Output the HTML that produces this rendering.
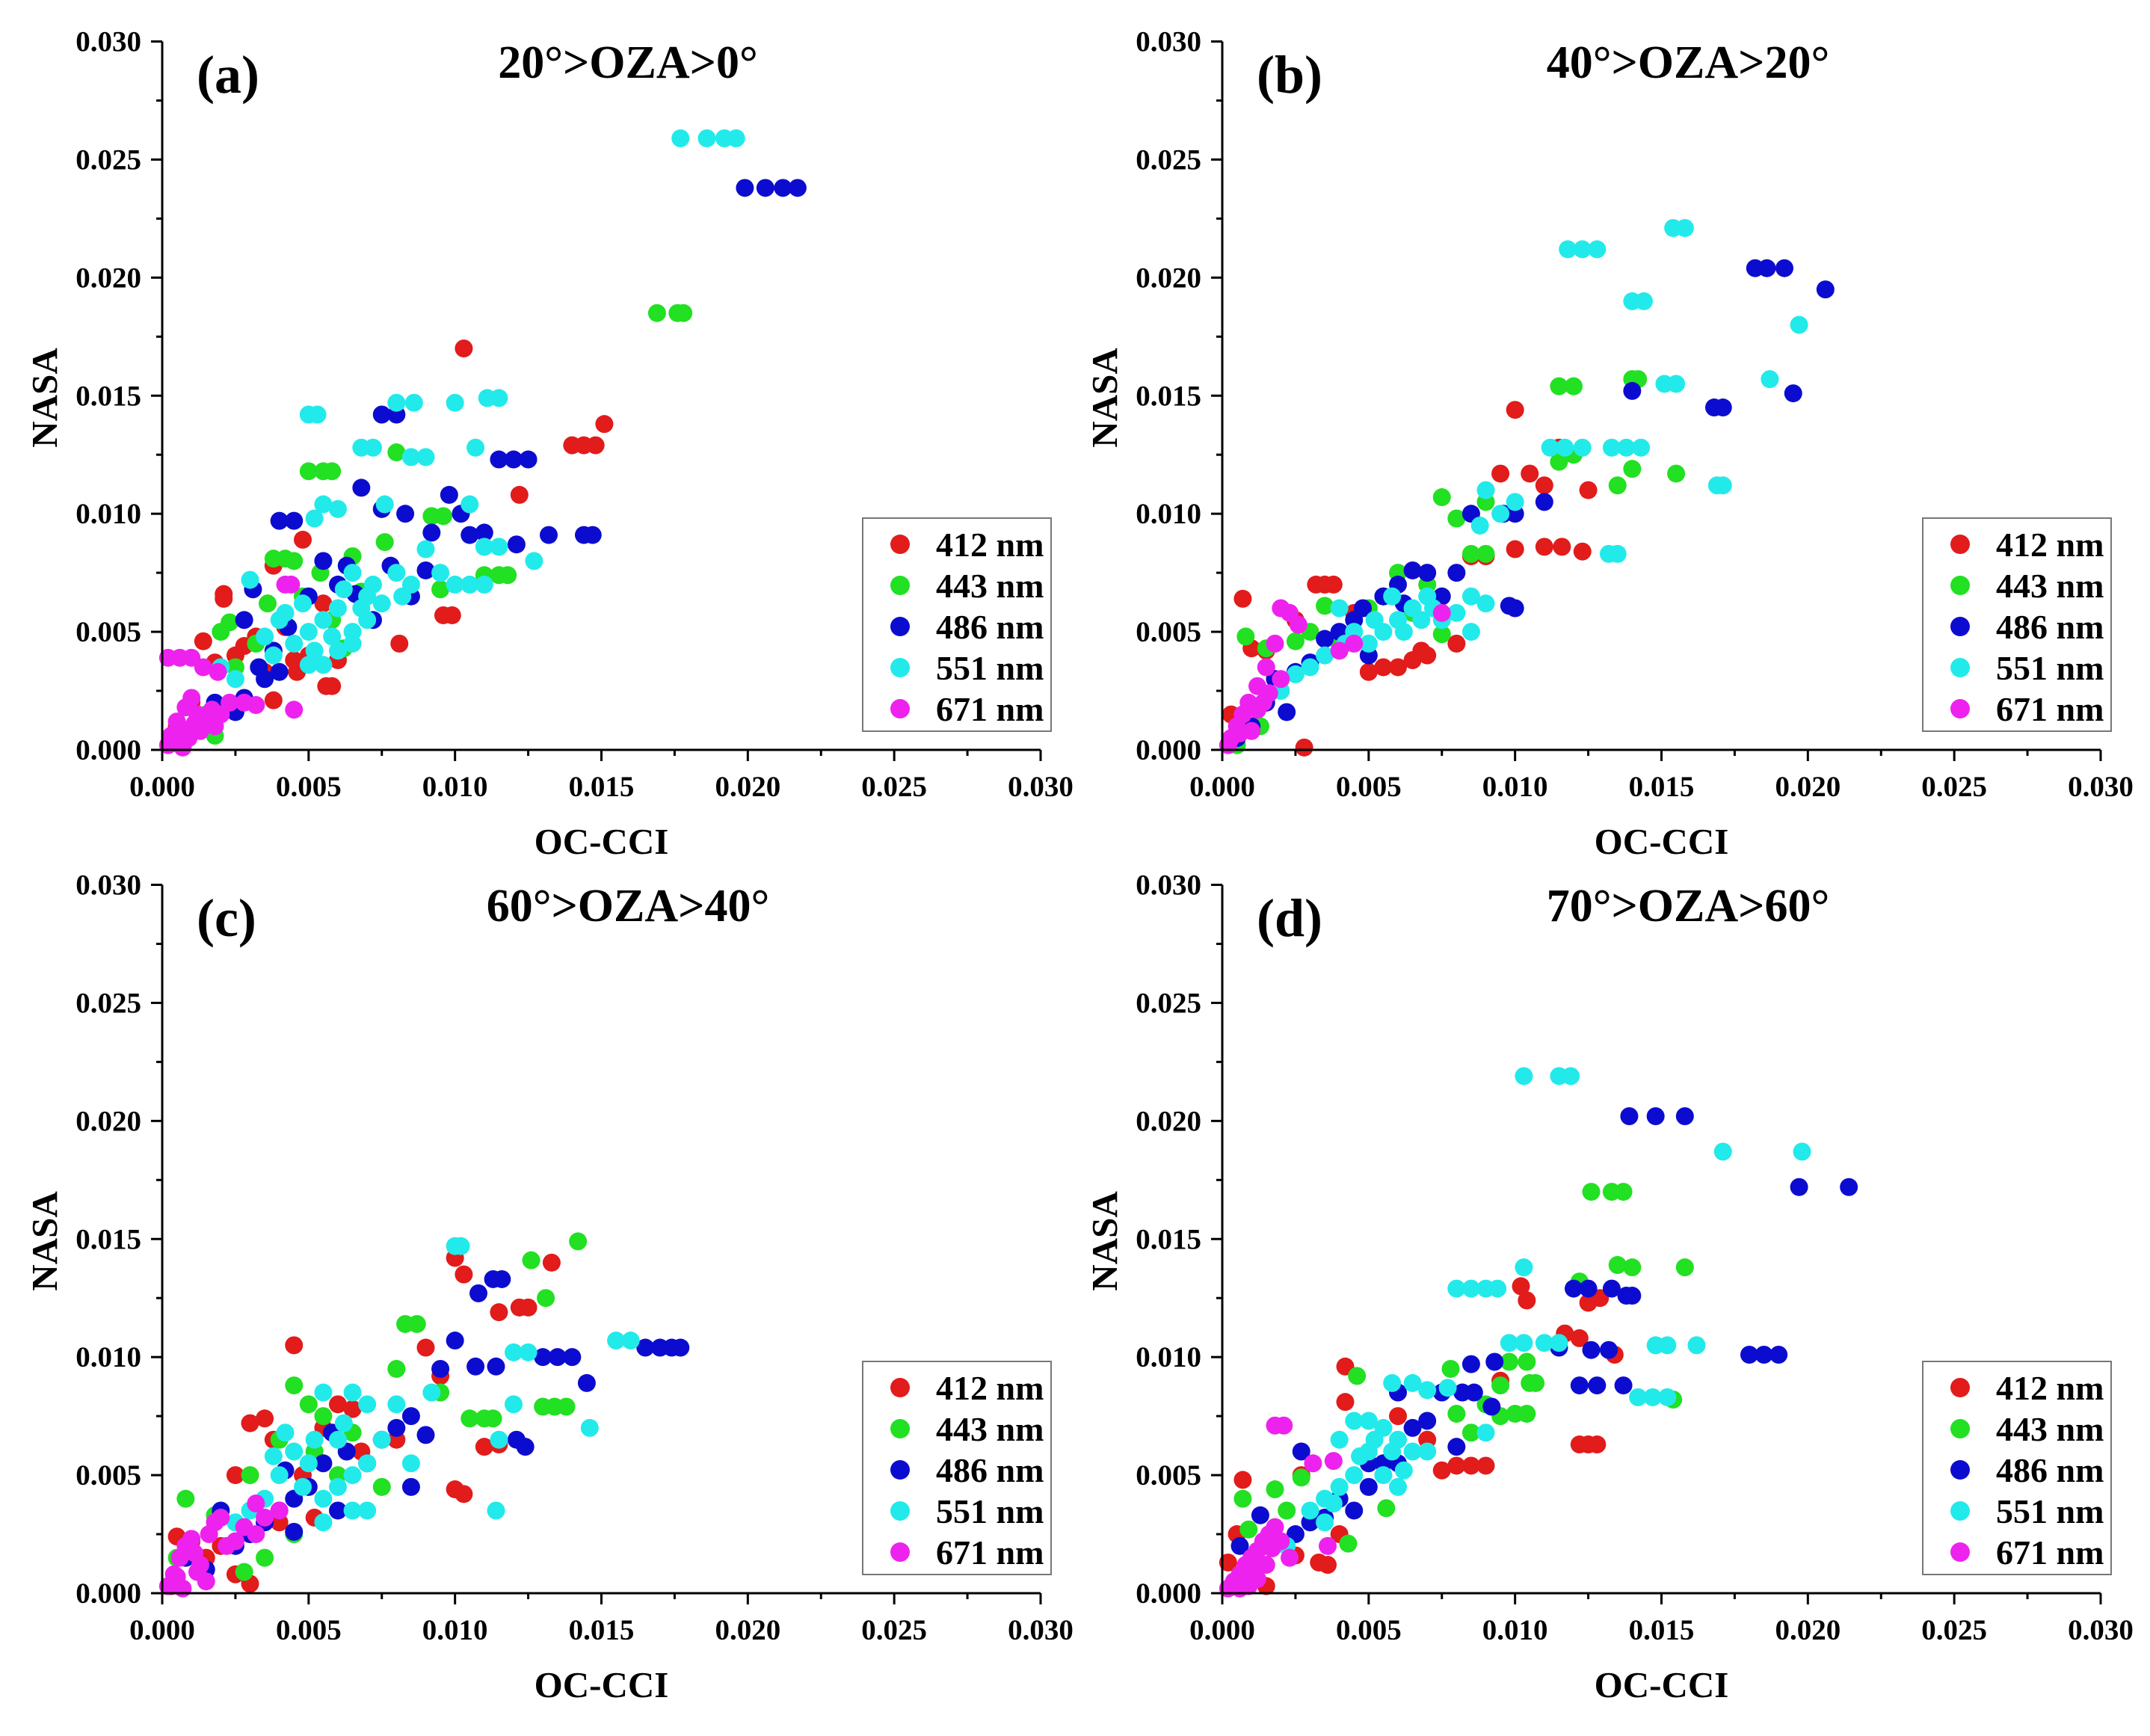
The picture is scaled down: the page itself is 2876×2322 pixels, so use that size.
<!DOCTYPE html>
<html><head><meta charset="utf-8"><style>
html,body{margin:0;padding:0;background:#fff;}
svg{display:block;font-family:"Liberation Serif",serif;font-weight:bold;}
</style></head><body>
<svg id="fig" width="2876" height="2322" viewBox="0 0 2876 2322" xmlns="http://www.w3.org/2000/svg"></svg>
<script>
// values in units of 1e-3 sr^-1, [OC-CCI, NASA]
const panelLabels = ["(a)","(b)","(c)","(d)"];
const panelTitles = ["20°>OZA>0°","40°>OZA>20°","60°>OZA>40°","70°>OZA>60°"];
const bandNames = ["412 nm","443 nm","486 nm","551 nm","671 nm"];
const xTicks = [0,5,10,15,20,25,30];
const yTicks = [0,5,10,15,20,25,30];
const tickLabels = ["0.000","0.005","0.010","0.015","0.020","0.025","0.030"];

const a412=[[10.3,17],[14,12.9],[14.4,12.9],[14.8,12.9],[15.1,13.8],[12.2,10.8],[9.6,5.7],[9.9,5.7],[8.1,4.5],[5.6,2.7],[5.8,2.7],[6,3.8],[4.6,3.3],[3.8,2.1],[2.1,6.4],[2.1,6.6],[1.4,4.6],[4.8,8.9],[4.5,3.8],[3.5,3.3],[2.5,4],[1.8,3.7],[5,4],[3.2,4.8],[1.0,2],[0.5,1],[3.8,7.8],[5.5,6.2],[4.2,5.2],[2.8,4.4]];
const a443=[[16.9,18.5],[17.6,18.5],[17.8,18.5],[5.0,11.8],[5.5,11.8],[5.8,11.8],[8.0,12.6],[11.0,7.4],[11.5,7.4],[11.8,7.4],[9.2,9.9],[9.6,9.9],[7.6,8.8],[3.8,8.1],[4.2,8.1],[4.5,8],[2.0,5.0],[2.3,5.4],[6.2,4.3],[9.5,6.8],[2.5,3.5],[1.5,1.5],[1.8,0.6],[5.4,7.5],[6.8,6.7],[3.2,4.5],[4.8,6.5],[5.8,5.5],[3.6,6.2],[6.5,8.2]];
const a486=[[19.9,23.8],[20.6,23.8],[21.2,23.8],[21.7,23.8],[7.5,14.2],[8,14.2],[11.5,12.3],[12,12.3],[12.5,12.3],[14.4,9.1],[14.7,9.1],[13.2,9.1],[10.5,9.1],[11,9.2],[10.2,10.0],[9.8,10.8],[12.1,8.7],[8.3,10.0],[7.5,10.2],[6.8,11.1],[4.0,9.7],[4.5,9.7],[7.8,7.8],[8.5,6.5],[9.2,9.2],[6.0,7.0],[3.1,6.8],[2.8,5.5],[3.3,3.5],[3.5,3.0],[2.8,2.2],[2.5,1.6],[4.0,3.3],[5.5,8.0],[6.6,6.6],[7.2,5.5],[1.8,2.0],[9,7.6],[5,6.5],[4.3,5.2],[6.3,7.8],[3.8,4.2]];
const a551=[[17.7,25.9],[18.6,25.9],[19.2,25.9],[19.6,25.9],[5.0,14.2],[5.3,14.2],[8.0,14.7],[8.6,14.7],[10,14.7],[11.1,14.9],[11.5,14.9],[6.8,12.8],[7.2,12.8],[8.5,12.4],[9,12.4],[10.7,12.8],[5.5,10.4],[6,10.2],[7.6,10.4],[5.2,9.8],[10.5,10.4],[11,8.6],[11.5,8.6],[12.7,8],[10,7],[10.5,7],[11,7],[9,8.5],[8.5,7],[6.5,7.5],[7,6.5],[7,5.5],[6.5,5],[6,6],[5,5],[4.5,4.5],[4,5.5],[3.5,4.8],[3,7.2],[4.2,5.8],[5,3.6],[5.5,3.6],[2.5,3],[5.8,4.8],[7.2,7],[8.2,6.5],[6,4.2],[3.8,4],[2,3.5],[6.2,6.8],[6.8,6],[5.5,5.5],[4.8,6.2],[7.5,6.2],[6.5,4.5],[5.2,4.2],[9.5,7.5],[8,7.5]];
const a671=[[0.2,3.9],[0.6,3.9],[1,3.9],[1.4,3.5],[1.9,3.3],[4.2,7],[4.4,7],[4.5,1.7],[2.8,2],[3.2,1.9],[1,2.2],[0.8,1.8],[1.2,1.5],[0.5,1.2],[0.3,0.6],[0.6,0.9],[1.5,1.3],[1.8,1.0],[0.2,0.2],[0.9,0.5],[0.4,0.3],[1.3,0.8],[2.0,1.5],[0.7,0.1],[1.1,1.1],[1.7,1.7],[0.5,0.6],[2.3,2.0]];

const b412=[[0.7,6.4],[1,4.3],[1.5,4.2],[2.8,0.1],[3.2,7],[3.5,7],[3.8,7],[5,3.3],[5.5,3.5],[6,3.5],[7,4],[8,4.5],[9.5,11.7],[10,14.4],[10.5,11.7],[11,11.2],[11.5,12.8],[10,8.5],[11,8.6],[11.6,8.6],[12.3,8.4],[12.5,11],[8.5,8.2],[9,8.2],[4.5,5.8],[2.5,5.5],[0.3,1.5],[6.5,3.8],[0.5,0.5],[1.8,3.0],[6.8,4.2],[4,4.6]];
const b443=[[11.5,15.4],[12,15.4],[14,15.7],[14.2,15.7],[13.5,11.2],[14,11.9],[15.5,11.7],[11.5,12.2],[12,12.5],[7.5,10.7],[8,9.8],[9,10.5],[8.5,8.3],[9,8.3],[6,7.5],[5,6],[3.5,6.1],[2.5,4.6],[1.5,4.3],[0.8,4.8],[3,5],[6.5,5.8],[0.5,0.2],[1.3,1],[4,4.5],[7.5,4.9],[5.5,6.5],[7,7]];
const b486=[[18.2,20.4],[18.6,20.4],[19.2,20.4],[20.6,19.5],[19.5,15.1],[16.8,14.5],[17.1,14.5],[14,15.2],[11,10.5],[10,10],[8.5,10],[9.6,10],[9.8,6.1],[10,6],[8,7.5],[7,7.5],[6.5,7.6],[6,7],[5.5,6.5],[4.8,6],[4,5],[3.5,4.7],[3,3.7],[2.5,3.3],[1.8,3],[1.5,2],[2.2,1.6],[1,1],[0.5,0.5],[5,4],[7.5,6.5],[6.2,6.2],[4.5,5.5]];
const b551=[[11.8,21.2],[12.3,21.2],[12.8,21.2],[15.4,22.1],[15.8,22.1],[14,19],[14.4,19],[19.7,18],[18.7,15.7],[15.1,15.5],[15.5,15.5],[16.9,11.2],[17.1,11.2],[11.2,12.8],[11.7,12.8],[12.3,12.8],[13.3,12.8],[13.8,12.8],[14.3,12.8],[13.2,8.3],[13.5,8.3],[10,10.5],[9.5,10],[9,11],[8.8,9.5],[8.5,6.5],[9,6.2],[8,5.8],[7.5,5.5],[6.8,5.5],[6.5,6],[6,5.5],[5.5,5],[5,4.5],[4.5,5],[4,6],[3.5,4],[3,3.5],[2.5,3.2],[7,6.5],[8.5,5],[5.8,6.5],[2,2.5],[6.2,5],[7.2,6],[5.2,5.5],[4.2,4.5]];
const b671=[[2,6],[2.3,5.8],[2.6,5.3],[1.8,4.5],[1.5,3.5],[1.2,2.7],[0.9,2],[0.7,1.5],[0.5,1],[0.3,0.5],[0.2,0.2],[1.2,1.7],[1.6,2.4],[4,4.2],[4.5,4.5],[2,3],[7.5,5.8],[1,0.8],[0.6,0.7],[1.4,2]];

const c412=[[4.5,10.5],[10,14.2],[10.3,13.5],[12.2,12.1],[12.5,12.1],[11.5,11.9],[13.3,14],[9,10.4],[9.5,9.2],[11,6.2],[11.5,6.3],[10,4.4],[10.3,4.2],[6,8],[5.5,7],[3.5,7.4],[3,7.2],[2.5,5],[4,3],[5.2,3.2],[3,0.4],[2.5,0.8],[0.5,2.4],[1,2.2],[1.5,1.5],[6.5,7.8],[8,6.5],[3.8,6.5],[0.3,0.3],[2,2],[4.8,5],[6.8,6]];
const c443=[[14.2,14.9],[12.6,14.1],[13.1,12.5],[8.3,11.4],[8.7,11.4],[10.5,7.4],[11,7.4],[11.3,7.4],[13,7.9],[13.4,7.9],[13.8,7.9],[9.5,8.5],[8,9.5],[4.5,8.8],[5,8],[5.5,7.5],[4,6.5],[3,5],[0.8,4],[1.8,3.3],[3.5,1.5],[2.8,0.9],[7.5,4.5],[6,5],[0.5,1.5],[4.5,2.5],[5.2,6],[6.5,6.8]];
const c486=[[17,10.4],[17.4,10.4],[17.7,10.4],[16.5,10.4],[14.5,8.9],[13,10],[13.5,10],[14,10],[11.3,13.3],[11.6,13.3],[10.8,12.7],[10,10.7],[9.5,9.5],[10.7,9.6],[11.4,9.6],[12.1,6.5],[12.4,6.2],[8.5,7.5],[8,7],[9,6.7],[7.5,6.5],[7,5.5],[6.3,6],[5.5,5.5],[5,4.5],[4.5,4],[4,3.5],[3.5,3],[3,2.5],[2.5,2],[4.5,2.6],[8.5,4.5],[6,3.5],[0.8,1.5],[1.5,1],[2,3.5],[5.8,6.8],[4.2,5.2]];
const c551=[[10,14.7],[10.2,14.7],[15.5,10.7],[16,10.7],[12,10.2],[12.5,10.2],[14.6,7],[11.4,3.5],[12,8],[11.5,6.5],[5.5,8.5],[6.5,8.5],[8,8],[7,8],[9.2,8.5],[7.5,6.5],[7,5.5],[6.5,5],[6,4.5],[5.5,4],[5,5.5],[4.5,6],[4,5],[3.5,4],[3,3.5],[2.5,3],[6.5,3.5],[7,3.5],[8.5,5.5],[4.2,6.8],[5.5,3],[6,6.5],[5.2,6.5],[6.2,7.2],[4.8,4.5],[3.8,5.8]];
const c671=[[0.2,0.3],[0.4,0.8],[0.6,1.5],[0.8,2],[1,2.3],[1.3,1.2],[1.5,0.5],[1.6,2.5],[1.8,3],[2,3.2],[2.2,2],[2.5,2.2],[3.2,2.5],[3.2,3.8],[3.5,3.2],[4,3.5],[0.7,0.2],[1.2,0.9],[2.8,2.8],[1.1,1.7],[0.5,0.7]];

const d412=[[10.2,13],[10.4,12.4],[12.5,12.3],[12.9,12.5],[12.2,10.8],[11.7,11],[13.4,10.1],[12.2,6.3],[12.5,6.3],[12.8,6.3],[8,5.4],[8.5,5.4],[9,5.4],[7.5,5.2],[4.2,9.6],[4.2,8.1],[0.7,4.8],[2.7,5],[3.3,1.3],[3.6,1.2],[2.5,1.6],[1.5,0.3],[0.2,1.3],[9.5,9],[4,2.5],[6,7.5],[0.5,2.5],[7,6.5]];
const d443=[[12.6,17],[13.3,17],[13.7,17],[13.5,13.9],[14,13.8],[15.8,13.8],[15.4,8.2],[12.2,13.2],[9.8,9.8],[10.4,9.8],[10.5,8.9],[10.7,8.9],[9.5,8.8],[9.5,7.5],[10,7.6],[10.4,7.6],[8,7.6],[7.8,9.5],[4.6,9.2],[2.7,4.9],[1.8,4.4],[0.7,4],[0.9,2.7],[4.3,2.1],[5.6,3.6],[8.5,6.8],[2.2,3.5],[9,8]];
const d486=[[13.9,20.2],[14.8,20.2],[15.8,20.2],[19.7,17.2],[21.4,17.2],[18,10.1],[18.5,10.1],[19,10.1],[12,12.9],[12.5,12.9],[13.3,12.9],[13.8,12.6],[14,12.6],[12.2,8.8],[12.8,8.8],[13.7,8.8],[12.6,10.3],[13.2,10.3],[11.5,10.4],[8.5,9.7],[9.3,9.8],[8.6,8.5],[8.2,8.5],[7.5,8.5],[9.2,7.9],[8,6.2],[7,7.3],[6,8.5],[6.5,7],[5.5,5.5],[5,4.5],[4.5,3.5],[3.5,3.2],[2.7,6],[1.3,3.3],[0.6,2],[1,1.5],[3,3],[2.5,2.5],[6,5.5],[5,5.5],[4,4]];
const d551=[[10.3,21.9],[11.5,21.9],[11.9,21.9],[17.1,18.7],[19.8,18.7],[10.3,13.8],[8,12.9],[8.5,12.9],[9,12.9],[9.4,12.9],[9.8,10.6],[10.3,10.6],[11,10.6],[11.5,10.6],[14.8,10.5],[15.2,10.5],[16.2,10.5],[14.2,8.3],[14.7,8.3],[15.2,8.3],[5.8,8.9],[6.5,8.9],[7,8.6],[7.7,8.7],[4.5,7.3],[5,7.3],[5.5,7],[6,6.5],[6.5,6],[5,6],[4.5,5],[5.5,5],[4,4.5],[3.5,4],[3,3.5],[6,4.5],[3.5,3],[2.2,2],[9,6.8],[7,6],[4,6.5],[4.7,5.8],[5.2,6.5],[6.2,5.2],[3.8,3.8],[5.8,6]];
const d671=[[1.8,7.1],[2.1,7.1],[3.1,5.5],[3.8,5.6],[3.6,2],[0.2,0.2],[0.4,0.5],[0.6,0.8],[0.8,1.2],[1,1.5],[1.2,1.8],[1.4,2.2],[1.6,2.5],[1.8,2.8],[2,2.2],[2.3,1.5],[1.2,0.6],[0.6,0.2],[1.5,1.2],[0.9,0.3],[1.1,0.9],[1.7,1.9]];

const panelSeries=[[a412,a443,a486,a551,a671],[b412,b443,b486,b551,b671],[c412,c443,c486,c551,c671],[d412,d443,d486,d551,d671]];
const colors=["#e21b1b","#22e022","#0c0cd0","#22eaea","#ee22ee"];

const NS="http://www.w3.org/2000/svg";
const svg=document.getElementById('fig');
function mk(tag,attrs,parent){const e=document.createElementNS(NS,tag);for(const k in attrs)e.setAttribute(k,attrs[k]);(parent||svg).appendChild(e);return e;}

const X0=217,X1=1392,Y0=1003,Y1=55.5,DX=1418,DY=1128,XMAX=30,YMAX=30;
panelSeries.forEach((series,p)=>{
  const ox=(p%2)*DX, oy=Math.floor(p/2)*DY;
  const sx=v=>ox+X0+(X1-X0)*v/XMAX;
  const sy=v=>oy+Y0-(Y0-Y1)*v/YMAX;
  const g=mk('g',{});
  
  
  series.forEach((pts,si)=>{
    const sg=mk('g',{fill:colors[si]},g);
    
    
    pts.forEach(pt=>{
      const c=mk('circle',{cx:sx(pt[0]),cy:sy(pt[1]),r:12},sg);
      
      
    });
  });
  const ax=mk('path',{d:`M${sx(0)},${sy(YMAX)}V${sy(0)}H${sx(XMAX)}`,stroke:'#000','stroke-width':3,fill:'none'},g);
  
  
  for(let v=0;v<=XMAX;v+=2.5){
    const major=(v%5===0);
    mk('line',{x1:sx(v),x2:sx(v),y1:sy(0),y2:sy(0)+(major?15:8),stroke:'#000','stroke-width':3},g);
    mk('line',{y1:sy(v),y2:sy(v),x1:sx(0),x2:sx(0)-(major?15:8),stroke:'#000','stroke-width':3},g);
  }
  xTicks.forEach((v,i)=>{
    const t=mk('text',{x:sx(v),y:sy(0)+62,'text-anchor':'middle','font-size':39},g);
    t.textContent=tickLabels[i];
    
    
  });
  yTicks.forEach((v,i)=>{
    const t=mk('text',{x:sx(0)-28,y:sy(v)+13,'text-anchor':'end','font-size':39},g);
    t.textContent=tickLabels[i];
    
    
  });
  const xt=mk('text',{x:(sx(0)+sx(XMAX))/2,y:oy+1142,'text-anchor':'middle','font-size':49},g);
  xt.textContent='OC-CCI';
  
  
  const yt=mk('text',{transform:`translate(${ox+76},${oy+532}) rotate(-90)`,'text-anchor':'middle','font-size':49},g);
  yt.textContent='NASA';
  
  
  const tt=mk('text',{x:ox+840,y:oy+104,'text-anchor':'middle','font-size':62},g);
  tt.textContent=panelTitles[p];
  
  
  const pl=mk('text',{x:ox+263,y:oy+124,'font-size':72},g);
  pl.textContent=panelLabels[p];
  
  
  const lg=mk('g',{},g);
  
  
  mk('rect',{x:ox+1154,y:oy+693,width:252,height:285,fill:'#fff',stroke:'#777','stroke-width':2},lg);
  bandNames.forEach((n,i)=>{
    const y=oy+728+i*55;
    const e=mk('g',{},lg);
    
    
    mk('circle',{cx:ox+1204,cy:y,r:13,fill:colors[i]},e);
    const t=mk('text',{x:ox+1252,y:y+16,'font-size':46},e);
    t.textContent=n;
  });
});
</script>
</body></html>
